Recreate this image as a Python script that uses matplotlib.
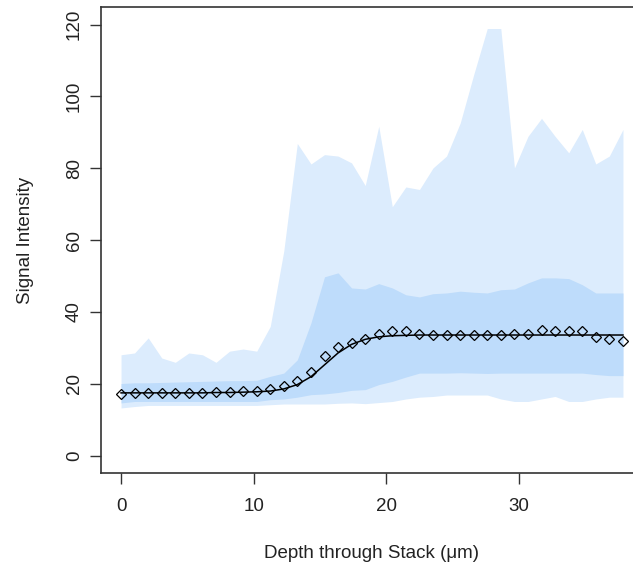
import numpy as np
import matplotlib.pyplot as plt

# depth of each optical section (um)
depth = [0.0, 1.02, 2.05, 3.07, 4.09, 5.11, 6.14, 7.16, 8.18, 9.2,
         10.23, 11.25, 12.27, 13.29, 14.32, 15.34, 16.36, 17.38, 18.41, 19.43,
         20.45, 21.47, 22.5, 23.52, 24.54, 25.57, 26.59, 27.61, 28.63, 29.66,
         30.68, 31.7, 32.72, 33.75, 34.77, 35.79, 36.81, 37.84]

# mean signal per section
mean_signal = [17.2, 17.5, 17.5, 17.5, 17.5, 17.6, 17.6, 17.7, 17.7, 18.0,
               18.0, 18.5, 19.3, 20.9, 23.4, 27.7, 30.3, 31.3, 32.5, 33.9,
               34.7, 34.7, 33.9, 33.5, 33.5, 33.5, 33.5, 33.5, 33.5, 33.9,
               33.9, 35.1, 34.7, 34.7, 34.7, 33.1, 32.4, 32.0]

# sigmoid fit evaluated at each section
fit_signal = [17.5, 17.5, 17.5, 17.5, 17.5, 17.5, 17.5, 17.6, 17.6, 17.7,
              17.8, 18.0, 18.6, 19.8, 22.0, 25.3, 28.6, 31.0, 32.4, 33.1,
              33.4, 33.5, 33.6, 33.6, 33.6, 33.6, 33.6, 33.6, 33.6, 33.6,
              33.6, 33.6, 33.6, 33.6, 33.6, 33.6, 33.6, 33.6]

# outer envelope (min / max)
outer_hi = [28.1, 28.6, 32.8, 27.2, 26.0, 28.6, 28.1, 26.0, 29.1, 29.7,
            29.1, 36.0, 57.0, 86.9, 81.2, 83.8, 83.4, 81.5, 75.2, 91.7,
            69.3, 74.8, 74.1, 80.1, 83.4, 92.6, 106.1, 118.9, 118.9, 80.1,
            88.9, 93.9, 88.9, 84.3, 90.8, 81.2, 83.4, 90.8]
outer_lo = [13.3, 13.7, 14.0, 14.0, 14.0, 14.0, 14.0, 14.0, 14.0, 14.0,
            14.0, 14.2, 14.4, 14.4, 14.4, 14.4, 14.6, 14.7, 14.5, 14.8,
            15.1, 15.8, 16.3, 16.5, 16.9, 16.9, 16.9, 16.9, 15.8, 15.1,
            15.1, 15.8, 16.5, 15.1, 15.1, 15.8, 16.3, 16.3]

# inner band (quartiles)
inner_hi = [20.1, 20.3, 20.3, 20.4, 20.5, 20.6, 20.7, 20.8, 20.9, 20.9,
            21.0, 22.1, 23.0, 26.7, 37.0, 49.8, 50.9, 46.7, 46.4, 47.9,
            46.7, 44.8, 44.2, 45.1, 45.3, 45.8, 45.5, 45.3, 46.2, 46.4,
            48.1, 49.5, 49.5, 49.3, 47.6, 45.3, 45.3, 45.3]
inner_lo = [14.7, 15.1, 15.1, 15.1, 15.1, 15.1, 15.1, 15.1, 15.1, 15.1,
            15.1, 15.6, 15.8, 16.3, 17.0, 17.2, 17.6, 18.2, 18.4, 19.8,
            20.7, 21.9, 23.0, 23.0, 23.0, 23.1, 23.0, 22.9, 23.0, 23.0,
            23.0, 23.0, 23.0, 23.0, 23.0, 22.6, 22.3, 22.3]

x_ticks = [0, 10, 20, 30]
y_ticks = [0, 20, 40, 60, 80, 100, 120]

plt.rcParams['font.family'] = ['Liberation Sans', 'DejaVu Sans']

W, H = 633, 567
fig = plt.figure(figsize=(W / 100, H / 100), dpi=100)
# R-style box; right edge runs past the figure like the source
ax = fig.add_axes([101 / W, (H - 473) / H, 542 / W, 465.7 / H])

ax.fill_between(depth, outer_lo, outer_hi, color='#dcecfd', linewidth=0)
ax.fill_between(depth, inner_lo, inner_hi, color='#bedcfb', linewidth=0)
ax.plot(depth, fit_signal, color='black', lw=1.1)
ax.plot(depth, mean_signal, linestyle='none', marker='D', markersize=5.5,
        markerfacecolor='none', markeredgecolor='black', markeredgewidth=0.9)

ax.set_xlim(-1.51, 39.35)
ax.set_ylim(-4.8, 124.8)
ax.set_xticks(x_ticks)
ax.set_yticks(y_ticks)
for s in ax.spines.values():
    s.set_linewidth(1.2)
    s.set_color('#333333')
ax.tick_params(length=8, width=1.0, color='#333333', labelsize=13.5,
               labelcolor='#222222')
ax.tick_params(axis='x', pad=10)
ax.tick_params(axis='y', pad=5)
for lab in ax.get_yticklabels():
    lab.set_rotation(90)
    lab.set_va('center')

ax.set_xlabel('Depth through Stack (μm)', fontsize=13.5, color='#222222', va='center')
ax.xaxis.set_label_coords(0.5, (473 - 554) / 465.7)
ax.set_ylabel('Signal Intensity', fontsize=13.5, color='#222222', va='center')
ax.yaxis.set_label_coords((25 - 101) / 542, 0.5)

fig.savefig('out.png', dpi=100)
